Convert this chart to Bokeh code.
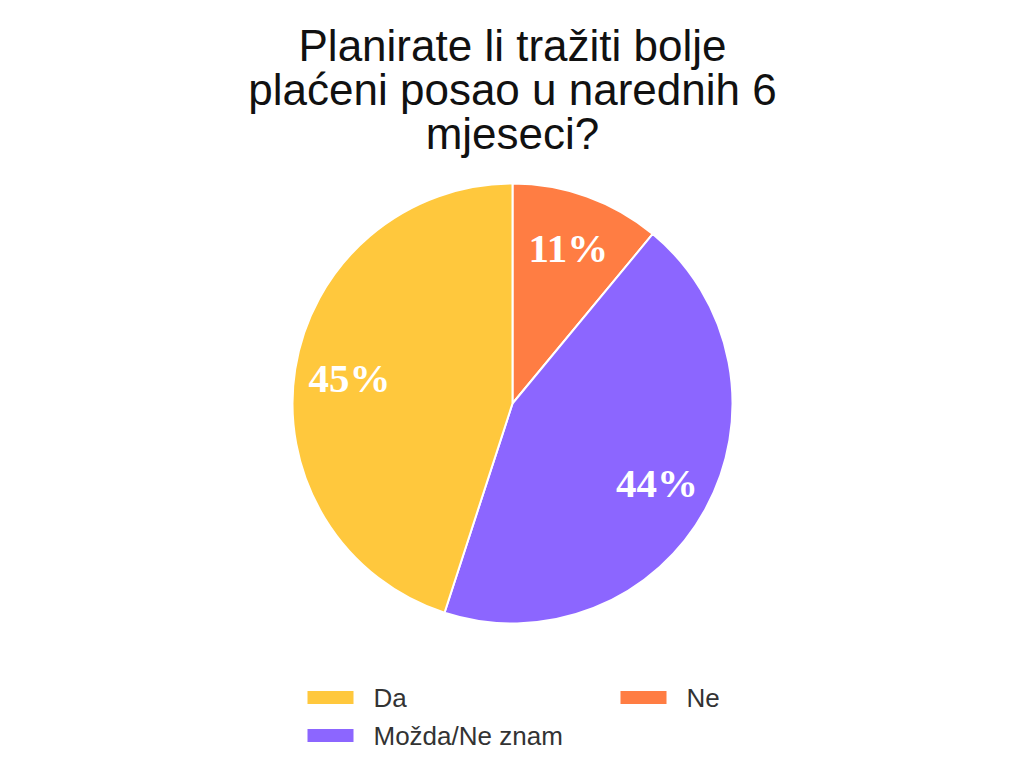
import math
from bokeh.plotting import figure
from bokeh.models import Range1d, ColumnDataSource
from bokeh.core.properties import value
from bokeh.embed import file_html
from bokeh.resources import INLINE

# ---- data ----
title_lines = ["Planirate li tražiti bolje", "plaćeni posao u narednih 6", "mjeseci?"]
pie_order = ["Ne", "Možda/Ne znam", "Da"]          # clockwise from 12 o'clock
pie_values = [11, 44, 45]
pie_colors = ["#FF7D43", "#8C66FF", "#FFC83D"]
legend_labels = ["Da", "Ne", "Možda/Ne znam"]

# ---- layout (page pixel coords, y measured downward -> data y = -page_y) ----
W, H = 1008, 763
CX, CY, R = 512, 403, 220

p = figure(width=W, height=H, output_backend="svg", toolbar_location=None,
           x_range=Range1d(0, W), y_range=Range1d(-H, 0),
           min_border=0)
p.axis.visible = False
p.grid.visible = False
p.outline_line_color = None
p.background_fill_color = "white"
p.border_fill_color = "white"

total = float(sum(pie_values))
starts, ends, mids = [], [], []
acc = 0.0
for v in pie_values:
    f0, f1 = acc / total, (acc + v) / total
    starts.append(math.pi / 2 - f0 * 2 * math.pi)
    ends.append(math.pi / 2 - f1 * 2 * math.pi)
    mids.append(math.pi / 2 - (f0 + f1) / 2 * 2 * math.pi)
    acc += v

src = ColumnDataSource(dict(start=starts, end=ends, color=pie_colors,
                            x=[CX] * 3, y=[-CY] * 3))
p.wedge(x="x", y="y", radius=R, start_angle="start", end_angle="end",
        direction="clock", fill_color="color", line_color="white",
        line_width=2, source=src)

# percentage labels
lr = 0.75 * R
lab = ColumnDataSource(dict(
    x=[CX + lr * math.cos(a) for a in mids],
    y=[-CY + lr * math.sin(a) for a in mids],
    t=[f"{round(v / total * 100)}%" for v in pie_values]))
p.text(x="x", y="y", text="t", source=lab, text_color="white",
       text_font=value("Liberation Serif"), text_font_style="bold",
       text_font_size="41px", text_align="center", text_baseline="middle")

# title
ty0, tdy = 45, 44
tsrc = ColumnDataSource(dict(x=[512] * len(title_lines),
                             y=[-(ty0 + i * tdy) for i in range(len(title_lines))],
                             t=title_lines))
p.text(x="x", y="y", text="t", source=tsrc, text_color="#111111",
       text_font=value("Liberation Sans"), text_font_size="44px",
       text_align="center", text_baseline="middle")

# legend (manual, two columns)
color_of = dict(zip(pie_order, pie_colors))
pos = [(307, 697), (620, 697), (307, 735)]
lx = [p_[0] for p_ in pos]
ly = [-p_[1] for p_ in pos]
p.rect(x=[x + 23 for x in lx], y=ly, width=46, height=13,
       fill_color=[color_of[l] for l in legend_labels], line_color=None)
p.text(x=[x + 66 for x in lx], y=ly, text=legend_labels, text_color="#333333",
       text_font=value("Liberation Sans"), text_font_size="26px",
       text_align="left", text_baseline="middle")

open("out.html", "w").write(file_html(p, INLINE))
